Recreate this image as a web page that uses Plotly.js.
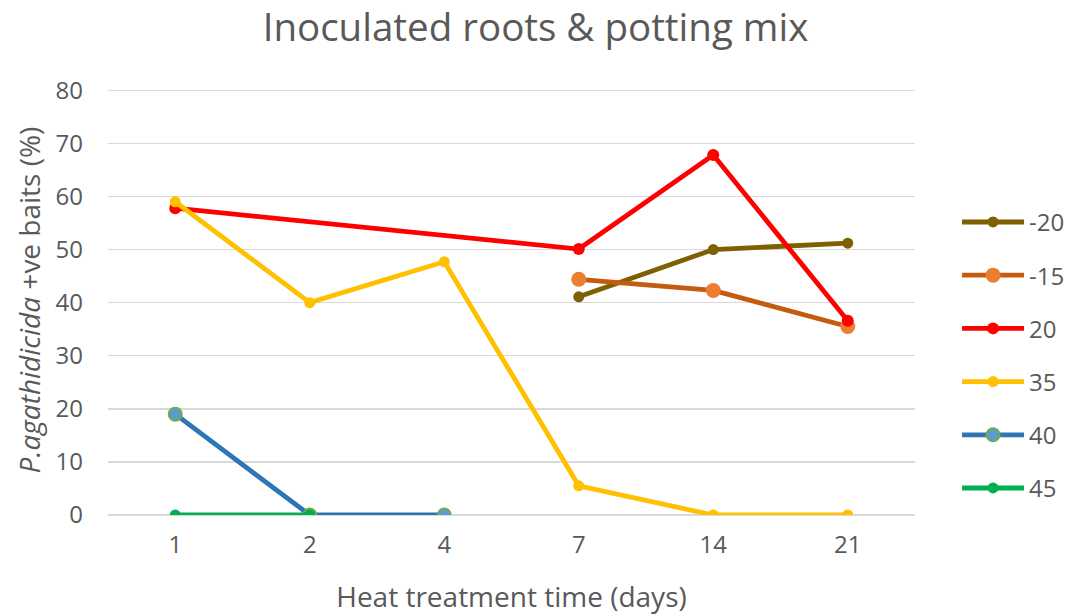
<!DOCTYPE html>
<html>
<head>
<meta charset="utf-8">
<script src="https://cdn.plot.ly/plotly-3.0.1.min.js"></script>
<style>html,body{margin:0;padding:0;background:#fff}#chart{width:1071px;height:615px}</style>
</head>
<body>
<div id="chart"></div>
<script>
var days = ["1", "2", "4", "7", "14", "21"];
var seriesNames = ["-20", "-15", "20", "35", "40", "45"];
var valsM20 = [null, null, null, 41.1, 50.0, 51.2];
var valsM15 = [null, null, null, 44.4, 42.3, 35.5];
var vals20 = [57.8, null, null, 50.1, 67.8, 36.6];
var vals35 = [59.0, 40.0, 47.7, 5.5, 0, 0];
var vals40 = [19.0, 0, 0, null, null, null];
var vals45 = [0, 0, null, null, null, null];

var seriesVals = [valsM20, valsM15, vals20, vals35, vals40, vals45];
var lineColors = ["#7F6000", "#C55A11", "#FF0000", "#FFC000", "#2E75B6", "#00B050"];
var markerColors = ["#7F6000", "#ED7D31", "#FF0000", "#FFC000", "#5B9BD5", "#00B050"];
var markerLineColors = ["#7F6000", "#ED7D31", "#FF0000", "#FFC000", "#70AD47", "#00B050"];
var markerSizes = [11, 15, 12, 11, 13, 11];
var markerLineWidths = [0, 0, 0, 0, 2, 0];

var traces = seriesNames.map(function (n, i) {
  return {
    x: days,
    y: seriesVals[i],
    name: n,
    type: "scatter",
    mode: "lines+markers",
    connectgaps: true,
    legendgroup: "g" + i,
    line: {color: lineColors[i], width: 4.8},
    marker: {color: markerColors[i], size: markerSizes[i], line: {color: markerLineColors[i], width: markerLineWidths[i]}}
  };
});

var layout = {
  width: 1071,
  height: 615,
  paper_bgcolor: "#fff",
  plot_bgcolor: "#fff",
  margin: {l: 108, r: 156, t: 85, b: 100},
  font: {family: "Open Sans, sans-serif", color: "#595959", size: 24},
  title: {text: "Inoculated roots &amp; potting mix", font: {size: 38.5, color: "#595959"}, x: 0.5, xanchor: "center", y: 0.955, yanchor: "middle"},
  xaxis: {
    type: "category",
    categoryorder: "array",
    categoryarray: days,
    range: [-0.5, 5.5],
    showgrid: false,
    showline: false,
    ticks: "",
    ticklabelstandoff: 13,
    tickfont: {size: 24, color: "#595959"},
    title: {text: "Heat treatment time (days)", font: {size: 28, color: "#595959"}, standoff: 28}
  },
  yaxis: {
    range: [0, 81],
    tickvals: [0, 10, 20, 30, 40, 50, 60, 70, 80],
    showgrid: true,
    gridcolor: "#D9D9D9",
    gridwidth: 1.5,
    zeroline: true,
    zerolinecolor: "#D9D9D9",
    zerolinewidth: 1.5,
    showline: false,
    ticks: "",
    ticklabelstandoff: 24,
    tickfont: {size: 24, color: "#595959"},
    title: {text: "<i>P.agathidicida</i> +ve baits (%)", font: {size: 28, color: "#595959"}, standoff: 6}
  },
  showlegend: true,
  legend: {
    xref: "container", yref: "container",
    x: 0.8936, xanchor: "left",
    y: 0.675, yanchor: "top",
    tracegroupgap: 19,
    itemwidth: 62,
    font: {size: 24, color: "#595959"},
    bgcolor: "rgba(0,0,0,0)"
  }
};

Plotly.newPlot("chart", traces, layout, {displayModeBar: false, staticPlot: true});
</script>
</body>
</html>
